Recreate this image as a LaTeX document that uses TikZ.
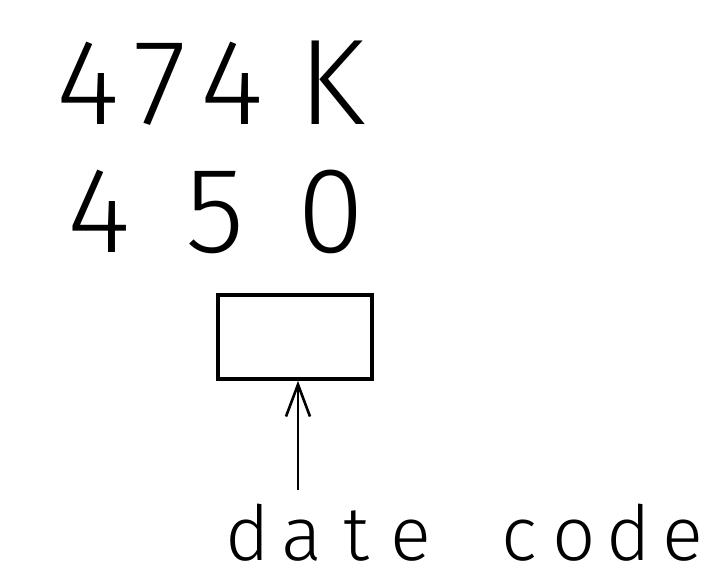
\documentclass[tikz,border=0pt]{standalone}
\usepackage{fontspec}
\setsansfont{Fira Sans Light}
\usetikzlibrary{arrows.meta,positioning}
% one fixed-width cell per printed character
\newcommand\cell[2]{\makebox[#1]{#2}}
\tikzset{
  mark text/.style={font=\sffamily\fontsize{61}{61}\selectfont,inner sep=0pt,anchor=base west},
  code text/.style={font=\sffamily\fontsize{38}{38}\selectfont,inner sep=0pt,anchor=base west},
  code box/.style={draw,line width=1.8pt,minimum width=77pt,minimum height=42pt,inner sep=0pt},
}
\begin{document}
\begin{tikzpicture}[x=0.5pt,y=-0.5pt]
\useasboundingbox (0,0) rectangle (701,572);
\node[mark text] (line1) at (52,125) {\cell{36pt}{4}\cell{36pt}{7}\cell{36pt}{4}\kern14pt\cell{36pt}{K}};
\node[mark text] (line2) at (41,253) {\cell{58pt}{4}\cell{58pt}{5}\cell{58pt}{0}};
\node[code box] (datebox) at (295,337) {};
\node[code text] (lbl) at (220,560) {\cell{27.2pt}{d}\cell{27.2pt}{a}\cell{27.2pt}{t}\cell{27.2pt}{e}\cell{27.2pt}{ }\cell{27.2pt}{c}\cell{27.2pt}{o}\cell{27.2pt}{d}\rlap{\cell{27.2pt}{e}}};
\coordinate (tail) at (298,490);
\draw[line width=1.3pt,-{Straight Barb[length=16pt,width=12pt]}] (tail) -- (tail |- datebox.south);
\end{tikzpicture}
\end{document}
